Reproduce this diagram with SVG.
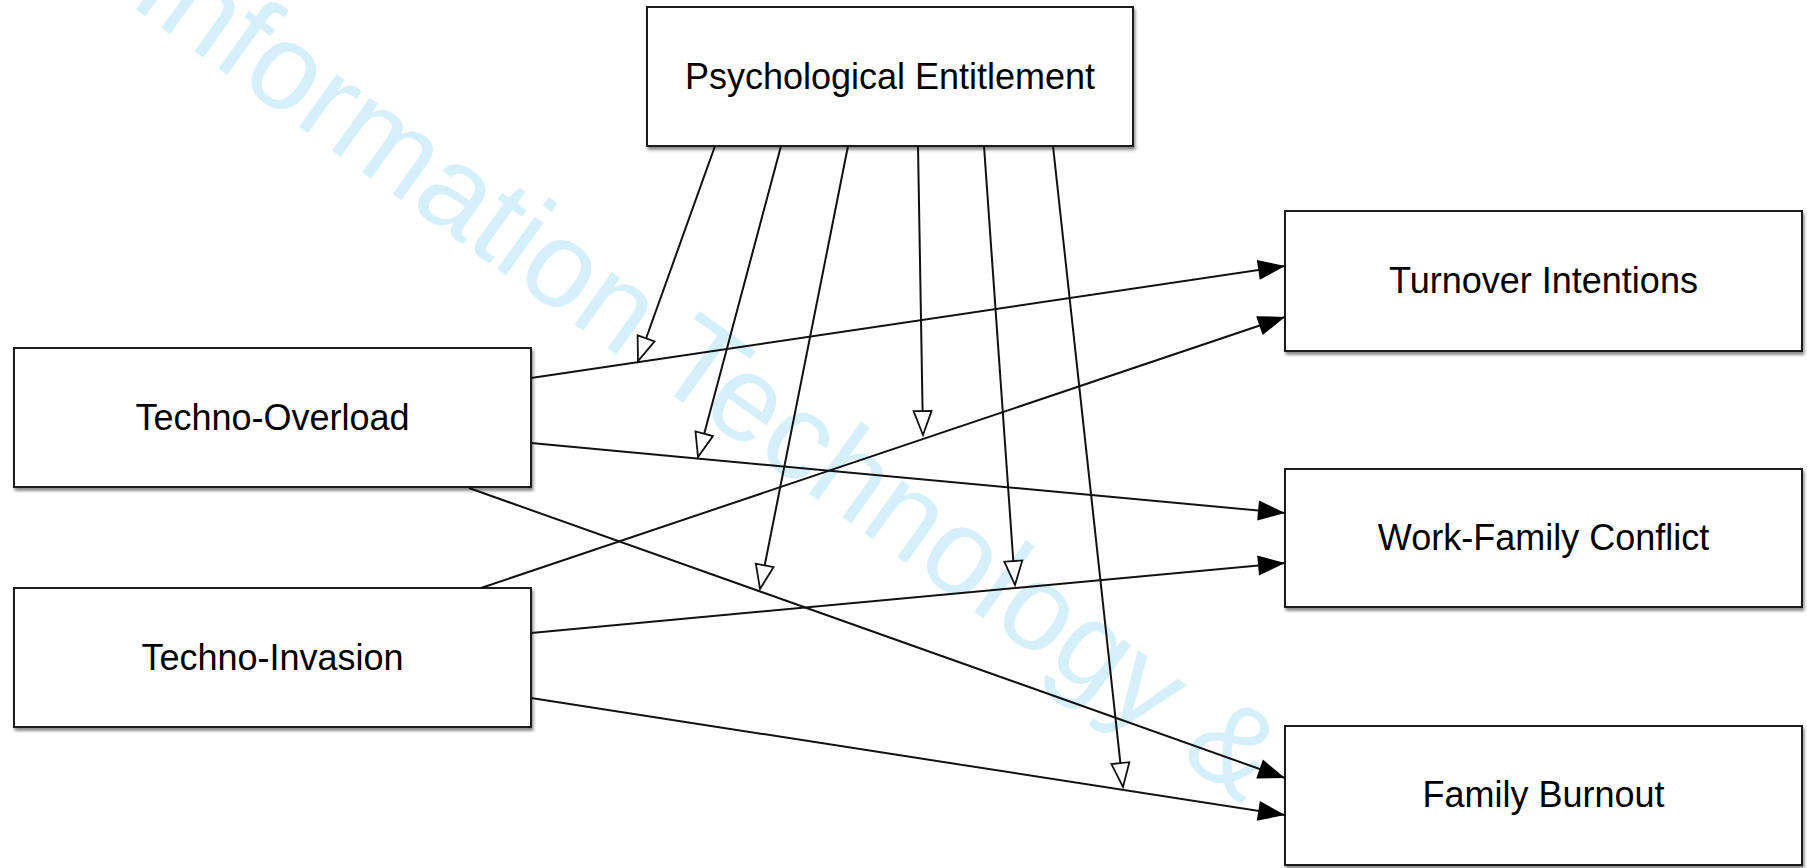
<svg xmlns="http://www.w3.org/2000/svg" width="1807" height="868" viewBox="0 0 1807 868">
  <style>
    .box { fill: #ffffff; stroke: #1a1a1a; stroke-width: 2; filter: url(#shadow); }
    .label { font-family: "Liberation Sans", Arial, Helvetica, sans-serif; font-size: 36px; fill: #000000; text-anchor: middle; }
    .wm { font-family: "Liberation Sans", Arial, Helvetica, sans-serif; font-size: 122px; fill: #d5effb; }
    .path { fill: none; stroke: #111111; stroke-width: 2; }
    .solid { marker-end: url(#arrowSolid); }
    .hollow { marker-end: url(#arrowHollow); }
  </style>
  <defs>
    <filter id="shadow" x="-5%" y="-10%" width="110%" height="125%">
      <feDropShadow dx="1.5" dy="3" stdDeviation="1.8" flood-color="#000000" flood-opacity="0.45"/>
    </filter>
    <marker id="arrowSolid" markerUnits="userSpaceOnUse" markerWidth="28" markerHeight="22" viewBox="0 0 28 22" refX="27" refY="11" orient="auto" overflow="visible">
      <path d="M0,1 L27,11 L0,21 Z" fill="#000000"/>
    </marker>
    <marker id="arrowHollow" markerUnits="userSpaceOnUse" markerWidth="28" markerHeight="22" viewBox="0 0 28 22" refX="25" refY="11" orient="auto" overflow="visible">
      <path d="M1,2 L25,11 L1,20 Z" fill="#ffffff" stroke="#111111" stroke-width="1.8"/>
    </marker>
  </defs>

  <rect width="1807" height="868" fill="#ffffff"/>

  <text class="wm" transform="translate(127,3) rotate(35.7)" x="0" y="0">Information Technology &amp;</text>

  <g id="node-psychological-entitlement">
    <rect class="box" x="647" y="7" width="486" height="139"/>
    <text class="label" x="890" y="89">Psychological Entitlement</text>
  </g>
  <g id="node-techno-overload">
    <rect class="box" x="14" y="348" width="517" height="139"/>
    <text class="label" x="272.5" y="430">Techno-Overload</text>
  </g>
  <g id="node-techno-invasion">
    <rect class="box" x="14" y="588" width="517" height="139"/>
    <text class="label" x="272.5" y="670">Techno-Invasion</text>
  </g>
  <g id="node-turnover-intentions">
    <rect class="box" x="1285" y="211" width="517" height="140"/>
    <text class="label" x="1543.5" y="292.5">Turnover Intentions</text>
  </g>
  <g id="node-work-family-conflict">
    <rect class="box" x="1285" y="469" width="517" height="138"/>
    <text class="label" x="1543.5" y="549.5">Work-Family Conflict</text>
  </g>
  <g id="node-family-burnout">
    <rect class="box" x="1285" y="726" width="517" height="139"/>
    <text class="label" x="1543.5" y="807">Family Burnout</text>
  </g>

  <g id="connectors">
    <path class="path solid" d="M531,378 L1285,266"/>
    <path class="path solid" d="M481,588 L1285,317"/>
    <path class="path solid" d="M531,443 L1285,513"/>
    <path class="path solid" d="M531,633 L1285,563"/>
    <path class="path solid" d="M469,488 L1285,778"/>
    <path class="path solid" d="M531,698 L1285,815"/>

    <path class="path hollow" d="M715,146 L638,361"/>
    <path class="path hollow" d="M781,146 L698,457"/>
    <path class="path hollow" d="M848,146 L760,589"/>
    <path class="path hollow" d="M918,146 L923,435"/>
    <path class="path hollow" d="M984,146 L1015,585"/>
    <path class="path hollow" d="M1053,146 L1123,787"/>
  </g>
</svg>
